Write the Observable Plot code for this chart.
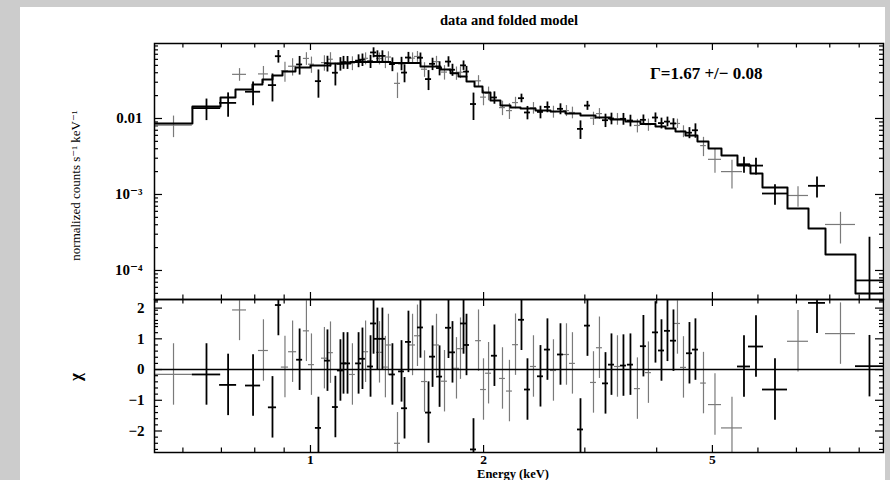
<!DOCTYPE html>
<html><head><meta charset="utf-8">
<script src="https://cdn.jsdelivr.net/npm/d3@7"></script>
<script src="https://cdn.jsdelivr.net/npm/@observablehq/plot@0.6"></script>
<style>
html,body{margin:0;padding:0;background:#cccccc;width:890px;height:480px;overflow:hidden;}
#sheet{position:absolute;left:20px;top:7px;width:865px;height:473px;background:#fff;}
#top,#bot{position:absolute;left:0;}
#top{top:0px}
#bot{top:290px}
</style></head><body>
<div id="sheet"></div>
<div id="top"></div><div id="bot"></div>
<script>
// ---- data ----
const eLo = [0.536,0.623,0.695,0.732,0.771,0.812,0.845,0.869,0.890,0.916, 0.946,0.972,0.992,1.020,1.045,1.058,1.071,1.092,1.114,1.128, 1.146,1.169,1.198,1.217,1.232,1.257,1.272,1.292,1.303,1.318, 1.334,1.350,1.372,1.400,1.423,1.440,1.463,1.487,1.517,1.535, 1.560,1.585,1.611,1.637,1.657,1.690,1.717,1.745,1.773,1.802, 1.824,1.846,1.898,1.937,1.976,2.016,2.064,2.132,2.192,2.246, 2.300,2.356,2.413,2.482,2.552,2.614,2.689,2.754,2.821,2.913, 2.996,3.069,3.143,3.220,3.298,3.378,3.460,3.558,3.659,3.748, 3.824,3.933,4.029,4.127,4.227,4.295,4.400,4.507,4.616,4.770, 4.922,5.185,5.528,5.777,6.110,6.754,7.347,7.864,8.867];
const eHi = [0.623,0.698,0.744,0.774,0.819,0.845,0.873,0.890,0.916,0.946, 0.969,0.996,1.016,1.045,1.070,1.083,1.096,1.118,1.141,1.155, 1.174,1.197,1.227,1.246,1.262,1.287,1.303,1.323,1.334,1.350, 1.366,1.383,1.405,1.434,1.457,1.475,1.498,1.523,1.553,1.572, 1.598,1.624,1.650,1.676,1.697,1.731,1.759,1.787,1.816,1.845, 1.868,1.890,1.944,1.983,2.023,2.065,2.114,2.183,2.245,2.300, 2.356,2.413,2.472,2.542,2.614,2.678,2.754,2.821,2.889,2.984, 3.068,3.143,3.219,3.298,3.378,3.460,3.544,3.645,3.748,3.839, 3.917,4.029,4.127,4.227,4.330,4.400,4.507,4.616,4.728,4.880, 5.185,5.640,5.824,6.135,6.754,7.347,7.864,8.867,9.920];
const rate = [0.00818,0.0137,0.01605,0.0381,0.0225,0.0386,0.0275,0.066,0.0425,0.0487, 0.0514,0.0617,0.0518,0.031,0.0544,0.0534,0.0602,0.040,0.0526,0.0550, 0.0548,0.0537,0.0577,0.0594,0.0619,0.0566,0.074,0.0666,0.0617,0.0666, 0.0564,0.0644,0.0520,0.029,0.0531,0.0402,0.0634,0.0623,0.0655,0.063, 0.0445,0.033,0.0524,0.0560,0.0461,0.0408,0.0561,0.0438,0.0397,0.0406, 0.050,0.0414,0.0155,0.0313,0.0191,0.0215,0.0189,0.0139,0.0127,0.0162, 0.0185,0.0120,0.0138,0.0122,0.0142,0.0123,0.0134,0.0127,0.0120,0.0073, 0.0148,0.0101,0.0116,0.0095,0.0100,0.0099,0.0099,0.0094,0.0081,0.0096, 0.0083,0.0103,0.0087,0.0091,0.0086,0.0086,0.0068,0.0065,0.0070,0.0044, 0.0029,0.0020,0.0025,0.0024,0.00103,0.00097,0.0013,0.000403,0.000074];
const rateErr = [0.00258,0.00432,0.00566,0.00722,0.0078,0.00977,0.0110,0.0125,0.0125,0.0125, 0.0141,0.0117,0.0125,0.0125,0.0125,0.0125,0.0132,0.0132,0.0106,0.0106, 0.0106,0.0111,0.0111,0.0111,0.0111,0.0111,0.0111,0.0111,0.0111,0.0111, 0.0111,0.0111,0.0107,0.0107,0.0107,0.0107,0.0107,0.0107,0.0107,0.0097, 0.0097,0.0097,0.0097,0.0097,0.0097,0.0088,0.0088,0.0079,0.0079,0.0071, 0.0071,0.0071,0.0061,0.0053,0.0044,0.0044,0.0035,0.0030,0.0030,0.0028, 0.0024,0.0024,0.0024,0.0023,0.0023,0.0022,0.0022,0.0021,0.0021,0.0020, 0.0020,0.0020,0.0019,0.0019,0.00175,0.00175,0.00175,0.00164,0.00164,0.00152, 0.00152,0.00152,0.00141,0.00133,0.00133,0.00121,0.00121,0.00108,0.0015,0.00125, 0.0010,0.00082,0.0006,0.0006,0.00031,0.00029,0.0004,0.00018,0.0002];
const chi = [-0.16,-0.16,-0.5,1.94,-0.52,0.62,-1.23,2.1,0.08,0.58, 0.32,1.26,0.16,-1.9,0.37,0.29,0.55,-1.22,-0.03,0.2, 0.2,-0.16,0.2,0.35,0.58,0.1,1.5,1.0,0.56,1.0, 0.08,0.8,-0.16,-2.4,-0.06,-1.26,0.9,0.8,1.1,1.37, -0.39,-1.4,0.42,0.8,-0.23,-0.38,1.36,0.56,0.04,0.68, 1.5,0.8,-2.6,0.94,-0.65,-0.12,0.45,-0.29,-0.7,0.81, 1.62,-0.65,0.1,-0.22,0.65,-0.03,0.49,0.49,0.2,-1.95, 1.43,-0.42,0.71,-0.45,0.16,0.1,0.13,0.16,-0.62,0.76, -0.1,1.21,0.62,1.26,0.94,1.5,0.07,0.53,0.65,-0.44, -1.14,-1.9,0.1,0.75,-0.65,0.92,2.17,1.17,0.11];
const grp = [1,0,0,1,0,1,0,0,1,1, 0,1,1,0,1,0,1,0,0,0, 0,1,0,0,1,0,0,0,1,0, 1,1,0,1,0,0,0,1,1,0, 1,0,0,1,0,1,0,0,1,1, 0,0,0,1,1,1,0,1,1,1, 0,0,1,0,0,1,0,1,1,0, 0,1,1,0,0,1,0,0,1,0, 1,0,0,0,0,1,1,0,0,1, 1,1,0,0,0,1,0,1,0];
const modelEdges = [0.5355,0.6233,0.6975,0.7406,0.7927,0.8250,0.8588,0.8940,0.9417,1.0, 1.0834,1.1738,1.3778,1.5536,1.6832,1.7520,1.8090,1.8679,1.9288,1.9914, 2.0560,2.1398,2.2275,2.3191,2.4627,2.6150,2.7768,2.9481,3.1306,3.3241, 3.5298,3.7483,3.9811,4.1439,4.3132,4.4894,4.7098,4.9220,5.1850,5.5283, 5.8238,6.1104,6.7537,7.3466,7.8640,8.8673,9.9202];
const modelRate = [0.00859,0.01439,0.01888,0.02408,0.02799,0.03258,0.0368,0.0415,0.0469,0.0498, 0.0529,0.0555,0.0537,0.0483,0.0441,0.0394,0.0357,0.0307,0.0263,0.0220, 0.0173,0.0148,0.01395,0.01354,0.01274,0.01236,0.01163,0.01095,0.01031,0.0097, 0.00913,0.00846,0.00785,0.00739,0.00674,0.00598,0.00498,0.00403,0.00326,0.00241, 0.00189,0.00124,0.000654,0.000357,0.000162,0.0000498];
const xTicks = [1, 2, 5];
const xTickLabels = ["1", "2", "5"];
const xMinorTicks = [0.6, 0.7, 0.8, 0.9, 3, 4, 6, 7, 8, 9];
const rateTicks = [1e-4, 1e-3, 1e-2];
const rateTickLabels = ["10\u207B\u2074", "10\u207B\u00B3", "0.01"];
const chiTicks = [-2, -1, 0, 1, 2];
const chiTickLabels = ["\u22122", "\u22121", "0", "1", "2"];
const titleText = "data and folded model";
const yLabelTop = "normalized counts s\u207B\u00B9 keV\u207B\u00B9";
const yLabelBottom = "\u03C7";
const xLabel = "Energy (keV)";
const annotation = "\u0393=1.67 +/\u2212 0.08";

// ---- build ----
const serif = "'Liberation Serif','DejaVu Serif',serif";
const pts = eLo.map((lo, i) => ({lo, hi: eHi[i], e: Math.sqrt(lo * eHi[i]), r: rate[i], dr: rateErr[i], c: chi[i], g: grp[i]}));
const modelPts = modelEdges.map((e, i) => ({e, m: modelRate[Math.min(i, modelRate.length - 1)]}));
const rateMinor = [];
[1e-5, 1e-4, 1e-3, 1e-2].forEach(dec => { for (let k = 2; k <= 9; k++) rateMinor.push(k * dec); });
const chiMinor = [];
for (let v = -26; v <= 22; v += 2) if (v % 10 !== 0) chiMinor.push(v / 10);

const X_DOMAIN = [0.5355, 9.92];
const W = 890 - 154 - 7;
const colors = ["#000000", "#7a7a7a"];
const widths = [1.8, 1.2];

function ticks(H, xMaj, xMin, yMaj, yMin, majLen, minLen) {
  const s = {stroke: "black", strokeWidth: 1.2};
  return [
    Plot.tickX(xMaj, {x: d => d, insetBottom: H - 7, ...s}),
    Plot.tickX(xMaj, {x: d => d, insetTop: H - 7, ...s}),
    Plot.tickX(xMin, {x: d => d, insetBottom: H - 4.5, ...s}),
    Plot.tickX(xMin, {x: d => d, insetTop: H - 4.5, ...s}),
    Plot.tickY(yMaj, {y: d => d, insetRight: W - majLen, ...s}),
    Plot.tickY(yMaj, {y: d => d, insetLeft: W - majLen, ...s}),
    Plot.tickY(yMin, {y: d => d, insetRight: W - minLen, ...s}),
    Plot.tickY(yMin, {y: d => d, insetLeft: W - minLen, ...s})
  ];
}

function crosses(g, yKey, lowF, highF) {
  const d = pts.filter(p => p.g === g);
  return [
    Plot.ruleY(d, {x1: "lo", x2: "hi", y: yKey, stroke: colors[g], strokeWidth: widths[g], clip: true}),
    Plot.ruleX(d, {x: "e", y1: lowF, y2: highF, stroke: colors[g], strokeWidth: widths[g], clip: true})
  ];
}

const topH = 300, topMT = 43, topMB = 1;
const topPlot = Plot.plot({
  width: 890, height: topH,
  marginLeft: 154, marginRight: 7, marginTop: topMT, marginBottom: topMB,
  style: {background: "transparent", overflow: "visible", fontFamily: serif, fontSize: "15px", color: "black"},
  x: {type: "log", domain: X_DOMAIN, axis: null},
  y: {type: "log", domain: [4.15e-5, 0.097]},
  marks: [
    ...ticks(topH - topMT - topMB, xTicks, xMinorTicks, rateTicks, rateMinor, 8, 4),
    Plot.axisY(rateTicks, {tickSize: 0, tickPadding: 12, label: null, fontWeight: "bold", fontSize: 15,
      tickFormat: d => rateTickLabels[rateTicks.indexOf(d)]}),
    ...crosses(1, "r", p => Math.max(p.r - p.dr, 1e-7), p => p.r + p.dr),
    Plot.line(modelPts, {x: "e", y: "m", curve: "step-after", stroke: "black", strokeWidth: 2, clip: true}),
    ...crosses(0, "r", p => Math.max(p.r - p.dr, 1e-7), p => p.r + p.dr),
    Plot.frame({stroke: "black", strokeWidth: 1.5}),
    Plot.text([titleText], {text: d => d, frameAnchor: "top", textAnchor: "middle", lineAnchor: "middle", dx: -10, dy: -23, fontWeight: "bold", fontSize: 14.5}),
    Plot.text([yLabelTop], {text: d => d, frameAnchor: "left", textAnchor: "middle", lineAnchor: "middle", dx: -79, dy: 14, rotate: -90, fontSize: 13}),
    Plot.text([annotation], {text: d => d, frameAnchor: "top-right", textAnchor: "end", lineAnchor: "middle", dx: -121, dy: 30, fontWeight: "bold", fontSize: 17})
  ]
});
document.getElementById("top").appendChild(topPlot);

const botH = 190, botMT = 9, botMB = 28;
const botPlot = Plot.plot({
  width: 890, height: botH,
  marginLeft: 154, marginRight: 7, marginTop: botMT, marginBottom: botMB,
  style: {background: "transparent", overflow: "visible", fontFamily: serif, fontSize: "15px", color: "black"},
  x: {type: "log", domain: X_DOMAIN},
  y: {domain: [-2.70, 2.28]},
  marks: [
    ...ticks(botH - botMT - botMB, xTicks, xMinorTicks, chiTicks, chiMinor, 8, 4),
    Plot.axisY(chiTicks, {tickSize: 0, tickPadding: 10, label: null, fontWeight: "bold", fontSize: 15,
      tickFormat: d => chiTickLabels[chiTicks.indexOf(d)]}),
    Plot.axisX(xTicks, {tickSize: 0, tickPadding: 2, label: null, fontWeight: "bold", fontSize: 13.5,
      tickFormat: d => xTickLabels[xTicks.indexOf(d)]}),
    ...crosses(1, "c", p => p.c - 1, p => p.c + 1),
    Plot.ruleY([0], {stroke: "black", strokeWidth: 1.6}),
    ...crosses(0, "c", p => p.c - 1, p => p.c + 1),
    Plot.frame({stroke: "black", strokeWidth: 1.5}),
    Plot.text([yLabelBottom], {text: d => d, frameAnchor: "left", textAnchor: "middle", lineAnchor: "middle", dx: -79, dy: 1, rotate: -90, fontWeight: "bold", fontSize: 17}),
    Plot.text([xLabel], {text: d => d, frameAnchor: "bottom", textAnchor: "middle", lineAnchor: "middle", dx: -6, dy: 21, fontWeight: "bold", fontSize: 12.5})
  ]
});
document.getElementById("bot").appendChild(botPlot);
</script>
</body></html>
